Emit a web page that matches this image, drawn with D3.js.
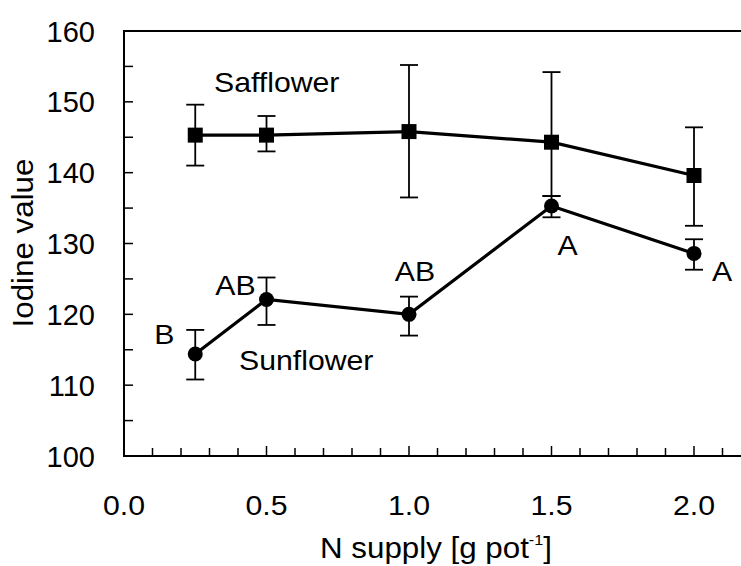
<!DOCTYPE html>
<html>
<head>
<meta charset="utf-8">
<script src="https://cdn.jsdelivr.net/npm/d3@7"></script>
<style>
    body { margin: 0; background: #fff; }
    text { font-family: "Liberation Sans", Arial, sans-serif; fill: #000; }
</style>
</head>
<body>
<div id="chart"></div>
<script>
// N supply levels (g pot-1)
const nSupply = [0.25, 0.5, 1.0, 1.5, 2.0];

// Safflower iodine value, with error bar ends
const safflower    = [145.3, 145.3, 145.8, 144.3, 139.6];
const safflowerHi  = [149.6, 148.0, 155.2, 154.2, 146.4];
const safflowerLo  = [141.0, 143.0, 136.5, 136.7, 132.5];

// Sunflower iodine value, with error bar ends
const sunflower    = [114.4, 122.1, 120.0, 135.3, 128.6];
const sunflowerHi  = [117.8, 125.2, 122.5, 136.7, 130.6];
const sunflowerLo  = [110.8, 118.5, 117.0, 133.7, 126.3];

// significance letters for sunflower
const sunLetters = ["B", "AB", "AB", "A", "A"];

const yTicks = [100, 110, 120, 130, 140, 150, 160];
const xTicks = [0.0, 0.5, 1.0, 1.5, 2.0];

const svgWidth = 741;
const svgHeight = 566;
const stretch = 1.08;   // text in the original is a bit wide

const svg = d3.select("#chart")
              .append("svg")
              .attr("width", svgWidth)
              .attr("height", svgHeight);

const x = d3.scaleLinear()
            .domain([0, 2.25])
            .range([124, 124 + 2.25 * 285]);

const y = d3.scaleLinear()
            .domain([100, 160])
            .range([456, 31]);

// frame (right side falls outside the picture)
svg.append("path")
   .attr("d", `M${x(2.25)},${y(160)}H${x(0)}V${y(100)}H${x(2.25)}`)
   .attr("fill", "none")
   .attr("stroke", "#000")
   .attr("stroke-width", 2);

// inward ticks
const yMinor = d3.range(100, 160.1, 5);
svg.append("g")
   .selectAll("line")
   .data(yMinor)
   .join("line")
   .attr("x1", x(0))
   .attr("x2", x(0) + 9)
   .attr("y1", d => y(d))
   .attr("y2", d => y(d))
   .attr("stroke", "#000")
   .attr("stroke-width", 1.5);

const xMinor = d3.range(0, 22).map(i => i / 10);
svg.append("g")
   .selectAll("line")
   .data(xMinor)
   .join("line")
   .attr("x1", d => x(d))
   .attr("x2", d => x(d))
   .attr("y1", y(100))
   .attr("y2", (d, i) => y(100) - (i % 5 === 0 ? 10 : 8))
   .attr("stroke", "#000")
   .attr("stroke-width", 1.5);

// tick labels
svg.append("g")
   .selectAll("text")
   .data(yTicks)
   .join("text")
   .attr("x", x(0) - 29)
   .attr("y", d => y(d) + 10.5)
   .attr("text-anchor", "end")
   .style("font-size", "29px")
   .text(d => d);

svg.append("g")
   .selectAll("text")
   .data(xTicks)
   .join("text")
   .attr("transform", d => `translate(${x(d)},515) scale(${stretch},1)`)
   .attr("text-anchor", "middle")
   .style("font-size", "28px")
   .text(d => d.toFixed(1));

// axis titles
svg.append("text")
   .attr("transform", `translate(33,243) rotate(-90) scale(${stretch},1)`)
   .attr("text-anchor", "middle")
   .style("font-size", "29px")
   .text("Iodine value");

const xTitle = svg.append("text")
                  .attr("transform", `translate(320,558) scale(${stretch},1)`)
                  .style("font-size", "29px");
xTitle.append("tspan").text("N supply  [g pot");
xTitle.append("tspan").attr("dy", -13).style("font-size", "15px").text("-1");
xTitle.append("tspan").attr("dy", 13).text("]");

function drawSeries(vals, hi, lo, shape) {
    const g = svg.append("g");

    // error bars
    const bars = g.selectAll(".err")
                  .data(nSupply)
                  .join("g")
                  .attr("class", "err")
                  .attr("stroke", "#000")
                  .attr("stroke-width", 1.8);
    bars.append("line")
        .attr("x1", d => x(d)).attr("x2", d => x(d))
        .attr("y1", (d, i) => y(hi[i])).attr("y2", (d, i) => y(lo[i]));
    bars.append("line")
        .attr("x1", d => x(d) - 9).attr("x2", d => x(d) + 9)
        .attr("y1", (d, i) => y(hi[i])).attr("y2", (d, i) => y(hi[i]));
    bars.append("line")
        .attr("x1", d => x(d) - 9).attr("x2", d => x(d) + 9)
        .attr("y1", (d, i) => y(lo[i])).attr("y2", (d, i) => y(lo[i]));

    const line = d3.line()
                   .x(d => x(d[0]))
                   .y(d => y(d[1]));
    g.append("path")
     .datum(nSupply.map((d, i) => [d, vals[i]]))
     .attr("d", line)
     .attr("fill", "none")
     .attr("stroke", "#000")
     .attr("stroke-width", 3.2);

    if (shape === "square") {
        g.selectAll(".pt")
         .data(nSupply)
         .join("rect")
         .attr("class", "pt")
         .attr("x", d => x(d) - 7.5)
         .attr("y", (d, i) => y(vals[i]) - 7.5)
         .attr("width", 15)
         .attr("height", 15)
         .attr("fill", "#000");
    } else {
        g.selectAll(".pt")
         .data(nSupply)
         .join("circle")
         .attr("class", "pt")
         .attr("cx", d => x(d))
         .attr("cy", (d, i) => y(vals[i]))
         .attr("r", 7.5)
         .attr("fill", "#000");
    }
}

drawSeries(safflower, safflowerHi, safflowerLo, "square");
drawSeries(sunflower, sunflowerHi, sunflowerLo, "circle");

// series names
svg.append("text")
   .attr("transform", `translate(214,92) scale(${stretch},1)`)
   .style("font-size", "28px")
   .text("Safflower");

svg.append("text")
   .attr("transform", `translate(239,370) scale(${stretch},1)`)
   .style("font-size", "28px")
   .text("Sunflower");

// letter offsets from each sunflower point
const letterOffset = [[-31, -10], [-31, -4], [6, -33], [16, 49], [28, 28]];
svg.append("g")
   .selectAll("text")
   .data(sunLetters)
   .join("text")
   .attr("transform", (d, i) =>
       `translate(${x(nSupply[i]) + letterOffset[i][0]},${y(sunflower[i]) + letterOffset[i][1]}) scale(${stretch},1)`)
   .attr("text-anchor", "middle")
   .style("font-size", "28px")
   .text(d => d);
</script>
</body>
</html>
